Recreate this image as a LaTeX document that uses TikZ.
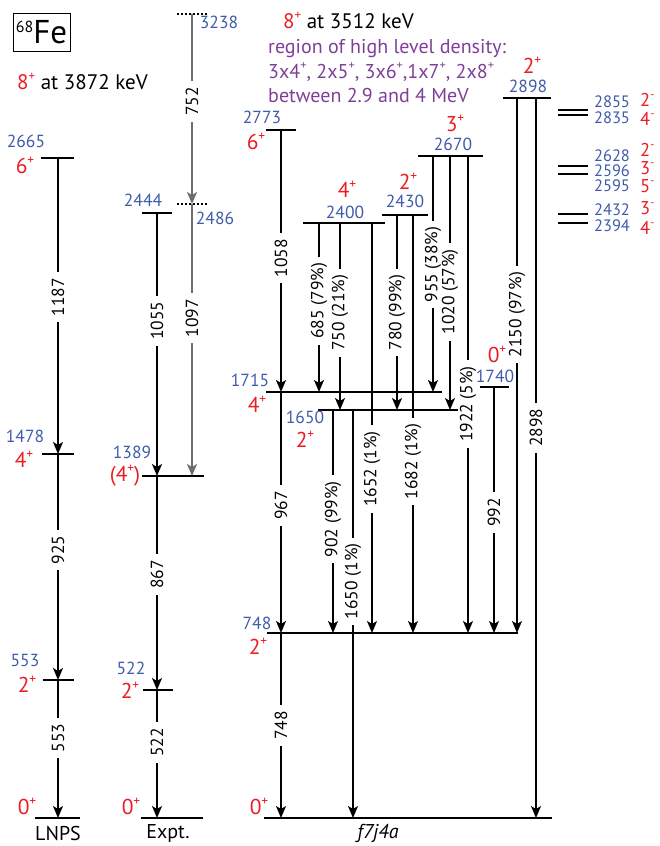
\documentclass[tikz,border=0pt]{standalone}
\usepackage{fontspec}
\setmainfont{PT Sans}
\usetikzlibrary{arrows.meta}
\definecolor{lvblue}{HTML}{3F5BA9}
\definecolor{spred}{HTML}{ED1C24}
\definecolor{regpurple}{HTML}{7F3F98}
\definecolor{arrgray}{HTML}{6D6E71}
\newcommand{\fsz}[1]{\fontsize{#1}{#1}\selectfont}
\newcommand{\supp}[1]{\raisebox{0.42em}{\scalebox{0.62}{#1}}}
\tikzset{
  lev/.style={line width=1.4pt},
  levthick/.style={line width=2.7pt},
  tr/.style={line width=1.5pt, -{Stealth[length=12pt,width=10pt,inset=3pt]}},
  trg/.style={tr, draw=arrgray},
  lab/.style={fill=white, rotate=90, inner xsep=6pt, inner ysep=0.5pt, text=black, font=\fsz{17.5}},
  en/.style={text=lvblue, font=\fsz{17.5}, inner sep=0pt},
  enr/.style={text=lvblue, font=\fsz{16.5}, inner sep=0pt},
  jp/.style={text=spred, font=\fsz{21.5}, inner sep=0pt},
  jpn/.style={text=spred, font=\fsz{18.5}, inner sep=0pt, anchor=west},
  dotlev/.style={line width=1.5pt, dash pattern=on 1.6pt off 2.4pt},
  colname/.style={font=\fsz{20}, inner sep=0pt},
}
\begin{document}
\begin{tikzpicture}[x=1pt,y=-1pt]
\useasboundingbox (0,0) rectangle (659,846);

% ---------- title and notes ----------
\node[draw, line width=0.8pt, minimum width=57pt, minimum height=38pt, inner sep=0pt] (title) at (41.5,32)
  {\raisebox{11pt}{\fsz{16}68}\fsz{33}Fe};
\node[anchor=base west, inner sep=0pt, font=\fsz{21}] (noteA) at (17,89)
  {\textcolor{spred}{8\supp{+}} at 3872 keV};
\node[anchor=base west, inner sep=0pt, font=\fsz{21}] (noteB) at (283,28)
  {\textcolor{spred}{8\supp{+}} at 3512 keV};
\node[anchor=base west, inner sep=0pt, font=\fsz{20}, text=regpurple] (reg1) at (268,53)
  {region of high level density:};
\node[anchor=base west, inner sep=0pt, font=\fsz{20}, text=regpurple] (reg2) at (268,78)
  {3x4\supp{+}, 2x5\supp{+}, 3x6\supp{+},1x7\supp{+}, 2x8\supp{+}};
\node[anchor=base west, inner sep=0pt, font=\fsz{20}, text=regpurple] (reg3) at (268,102)
  {between 2.9 and 4 MeV};

% ---------- LNPS ----------
\coordinate (a6L) at (41,158); \coordinate (a6R) at (74,158);
\coordinate (a4L) at (42,454); \coordinate (a4R) at (74,454);
\coordinate (a2L) at (43,680); \coordinate (a2R) at (74,680);
\coordinate (a0L) at (35,818); \coordinate (a0R) at (80,818);
\draw[lev] (a6L) -- (a6R);
\draw[lev] (a4L) -- (a4R);
\draw[lev] (a2L) -- (a2R);
\draw[lev, line width=1.9pt] (a0L) -- (a0R);
\coordinate (a6) at (58,158); \coordinate (a4) at (58,454);
\coordinate (a2) at (58,680); \coordinate (a0) at (58,818);
\draw[tr] (a6) -- (a4) node[lab, pos=0.47] (l1187) {1187};
\draw[tr] (a4) -- (a2) node[lab, pos=0.425] (l925) {925};
\draw[tr] (a2) -- (a0) node[lab, pos=0.42] (l553) {553};
\node[en] (e2665) at (26,141) {2665};
\node[jp] (s2665) at (25,165) {6\supp{+}};
\node[en] (e1478) at (25,436) {1478};
\node[jp] (s1478) at (24,459) {4\supp{+}};
\node[en] (e553) at (25,660) {553};
\node[jp] (s553) at (27,684) {2\supp{+}};
\node[jp] (s0a) at (27,806) {0\supp{+}};
\node[colname] (cLNPS) at (58,833) {LNPS};

% ---------- Expt ----------
\coordinate (e4L) at (142,213); \coordinate (e4R) at (172,213);
\coordinate (e3L) at (142,476); \coordinate (e3R) at (204,476);
\coordinate (e2L) at (143,690); \coordinate (e2R) at (173,690);
\coordinate (e0L) at (141,818); \coordinate (e0R) at (203,818);
\draw[lev] (e4L) -- (e4R);
\draw[levthick] (e3L) -- (e3R);
\draw[lev] (e2L) -- (e2R);
\draw[lev, line width=1.9pt] (e0L) -- (e0R);
\coordinate (g8L) at (177,14); \coordinate (g8R) at (208,14);
\coordinate (g6L) at (177,204); \coordinate (g6R) at (208,204);
\draw[dotlev] (g8L) -- (g8R);
\draw[dotlev] (g6L) -- (g6R);
\coordinate (e4) at (157,213); \coordinate (e3) at (157,476);
\coordinate (e2) at (157,690); \coordinate (e0) at (157,818);
\coordinate (g8) at (192,14); \coordinate (g6) at (192,204); \coordinate (g4) at (192,476);
\draw[tr] (e4) -- (e3) node[lab, pos=0.41] (l1055) {1055};
\draw[tr] (e3) -- (e2) node[lab, pos=0.46] (l867) {867};
\draw[tr] (e2) -- (e0) node[lab, pos=0.41] (l522) {522};
\draw[trg] (g8) -- (g6) node[lab, pos=0.46] (l752) {752};
\draw[trg] (g6) -- (g4) node[lab, pos=0.42] (l1097) {1097};
\node[en] (e3238) at (219,22) {3238};
\node[en] (e2486) at (215,218) {2486};
\node[en] (e2444) at (143,200) {2444};
\node[en] (e1389) at (132,452) {1389};
\node[jp] (s1389) at (125,476) {(4\supp{+})};
\node[en] (e522) at (131,668) {522};
\node[jp] (s522) at (130,690) {2\supp{+}};
\node[jp] (s0e) at (131,806) {0\supp{+}};
\node[colname] (cExpt) at (168,833) {Expt.};

% ---------- f7j4a levels ----------
\coordinate (f6L) at (266,130); \coordinate (f6R) at (296,130);
\coordinate (f24L) at (303,223); \coordinate (f24R) at (385,223);
\coordinate (f243L) at (382,215); \coordinate (f243R) at (428,215);
\coordinate (f26L) at (418,156); \coordinate (f26R) at (483,156);
\coordinate (f28L) at (503,98); \coordinate (f28R) at (551,98);
\coordinate (f17L) at (266,392); \coordinate (f17R) at (442,392);
\coordinate (f174L) at (480,387); \coordinate (f174R) at (509,387);
\coordinate (f16L) at (318,410); \coordinate (f16R) at (458,410);
\coordinate (f7L) at (267,633); \coordinate (f7R) at (518,633);
\coordinate (f0L) at (264,818); \coordinate (f0R) at (552,818);
\draw[lev] (f6L) -- (f6R);
\draw[lev] (f24L) -- (f24R);
\draw[lev] (f243L) -- (f243R);
\draw[lev] (f26L) -- (f26R);
\draw[lev] (f28L) -- (f28R);
\draw[lev] (f17L) -- (f17R);
\draw[lev] (f174L) -- (f174R);
\draw[levthick] (f16L) -- (f16R);
\draw[levthick] (f7L) -- (f7R);
\draw[levthick] (f0L) -- (f0R);

% ---------- f7j4a transitions ----------
\coordinate (t1a) at (281,130); \coordinate (t1b) at (281,392);
\coordinate (t2b) at (281,633); \coordinate (t3b) at (281,818);
\draw[tr] (t1a) -- (t1b) node[lab, pos=0.49] (l1058) {1058};
\draw[tr] (t1b) -- (t2b) node[lab, pos=0.47] (l967) {967};
\draw[tr] (t2b) -- (t3b) node[lab, pos=0.50] (l748) {748};

\coordinate (t685a) at (319,223); \coordinate (t685b) at (319,392);
\coordinate (t750a) at (340,223); \coordinate (t750b) at (340,410);
\coordinate (t1652a) at (372,223); \coordinate (t1652b) at (372,633);
\draw[tr] (t685a) -- (t685b) node[lab, pos=0.46] (l685) {685 (79\%)};
\draw[tr] (t750a) -- (t750b) node[lab, pos=0.48] (l750) {750 (21\%)};
\draw[tr] (t1652a) -- (t1652b) node[lab, pos=0.60] (l1652) {1652 (1\%)};

\coordinate (t780a) at (397,215); \coordinate (t780b) at (397,410);
\coordinate (t1682a) at (413,215); \coordinate (t1682b) at (413,633);
\draw[tr] (t780a) -- (t780b) node[lab, pos=0.50] (l780) {780 (99\%)};
\draw[tr] (t1682a) -- (t1682b) node[lab, pos=0.59] (l1682) {1682 (1\%)};

\coordinate (t955a) at (433,156); \coordinate (t955b) at (433,392);
\coordinate (t1020a) at (450,156); \coordinate (t1020b) at (450,410);
\coordinate (t1922a) at (468,156); \coordinate (t1922b) at (468,633);
\draw[tr] (t955a) -- (t955b) node[lab, pos=0.46] (l955) {955 (38\%)};
\draw[tr] (t1020a) -- (t1020b) node[lab, pos=0.535] (l1020) {1020 (57\%)};
\draw[tr] (t1922a) -- (t1922b) node[lab, pos=0.52] (l1922) {1922 (5\%)};

\coordinate (t992a) at (494,387); \coordinate (t992b) at (494,633);
\draw[tr] (t992a) -- (t992b) node[lab, pos=0.51] (l992) {992};

\coordinate (t2150a) at (517,98); \coordinate (t2150b) at (517,633);
\coordinate (t2898a) at (536,98); \coordinate (t2898b) at (536,818);
\draw[tr] (t2150a) -- (t2150b) node[lab, pos=0.405] (l2150) {2150 (97\%)};
\draw[tr] (t2898a) -- (t2898b) node[lab, pos=0.458] (l2898) {2898};

\coordinate (t902a) at (333,410); \coordinate (t902b) at (333,633);
\coordinate (t1650a) at (353,410); \coordinate (t1650b) at (353,818);
\draw[tr] (t902a) -- (t902b) node[lab, pos=0.49] (l902) {902 (99\%)};
\draw[tr] (t1650a) -- (t1650b) node[lab, pos=0.42] (l1650) {1650 (1\%)};

% ---------- f7j4a labels ----------
\node[en] (e2773) at (262,117) {2773};
\node[jp] (s2773) at (256,141) {6\supp{+}};
\node[en] (e1715) at (250,380) {1715};
\node[jp] (s1715) at (257,404) {4\supp{+}};
\node[en] (e1650) at (305,417) {1650};
\node[jp] (s1650) at (305,439) {2\supp{+}};
\node[en] (e748) at (257,623) {748};
\node[jp] (s748) at (258,646) {2\supp{+}};
\node[jp] (s0f) at (259,806) {0\supp{+}};
\node[jp] (s2400) at (347,189) {4\supp{+}};
\node[en] (e2400) at (345,212) {2400};
\node[jp] (s2430) at (408,181) {2\supp{+}};
\node[en] (e2430) at (405,201) {2430};
\node[jp] (s2670) at (455,123) {3\supp{+}};
\node[en] (e2670) at (453,144) {2670};
\node[jp] (s1740) at (497,354) {0\supp{+}};
\node[en] (e1740) at (495,376) {1740};
\node[jp] (s2898) at (532,65) {2\supp{+}};
\node[en] (e2898) at (528,86) {2898};
\node[colname, font=\fsz{20}\itshape] (cf7) at (378,833) {f7j4a};

% ---------- negative parity levels ----------
\coordinate (n1L) at (558,110); \coordinate (n1R) at (588,110);
\coordinate (n2L) at (558,115); \coordinate (n2R) at (588,115);
\coordinate (n3L) at (558,166); \coordinate (n3R) at (588,166);
\coordinate (n4L) at (558,174); \coordinate (n4R) at (588,174);
\coordinate (n5L) at (558,214); \coordinate (n5R) at (588,214);
\coordinate (n6L) at (558,223); \coordinate (n6R) at (588,223);
\draw[lev] (n1L) -- (n1R);
\draw[lev] (n2L) -- (n2R);
\draw[lev, line width=1.6pt] (n3L) -- (n3R);
\draw[lev, line width=1.6pt] (n4L) -- (n4R);
\draw[lev, line width=1.6pt] (n5L) -- (n5R);
\draw[lev, line width=1.6pt] (n6L) -- (n6R);
\node[enr] (e2855) at (612,102) {2855};
\node[enr] (e2835) at (612,118) {2835};
\node[enr] (e2628) at (612,156) {2628};
\node[enr] (e2596) at (612,171) {2596};
\node[enr] (e2595) at (612,186) {2595};
\node[enr] (e2432) at (612,210) {2432};
\node[enr] (e2394) at (612,226) {2394};
\node[jpn] (s2855) at (640,100) {2\supp{-}};
\node[jpn] (s2835) at (640,119) {4\supp{-}};
\node[jpn] (s2628) at (640,150) {2\supp{-}};
\node[jpn] (s2596) at (640,168) {3\supp{-}};
\node[jpn] (s2595) at (640,186) {5\supp{-}};
\node[jpn] (s2432) at (640,208) {3\supp{-}};
\node[jpn] (s2394) at (640,228) {4\supp{-}};
\end{tikzpicture}
\end{document}
